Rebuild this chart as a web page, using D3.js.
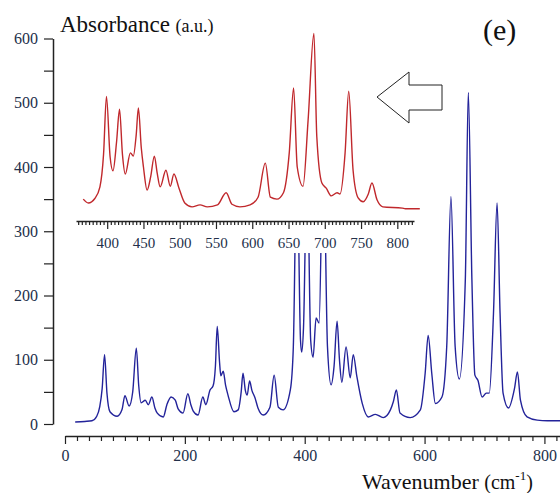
<!DOCTYPE html>
<html><head><meta charset="utf-8">
<script src="https://cdn.jsdelivr.net/npm/d3@7"></script>
<style>body{margin:0;background:#fff}svg{display:block}
.tick text{font-family:'Liberation Serif','Times New Roman',serif !important;}
</style>
</head><body>
<svg id="c" width="560" height="493"></svg>
<script>
// Main spectrum (blue): wavenumber / absorbance
const blueX = [17,33,45,53,58,62,66,70,75,87,95,100,107,113,119,123,127,134,139,145,150,154,164,170,177,184,189,197,205,210,214,222,230,235,242,247,251,254,258,260,264,268,272,282,289,294,297,301,304,308,312,317,322,331,342,349,356,364,376,381,387,393,395,398,404,410,414,419,424,431,438,444,449,454,458,462,469,476,481,487,496,506,518,531,543,548,553,559,576,593,601,606,612,618,629,637,644,651,658,668,673,679,684,689,696,703,708,715,721,726,731,740,750,755,760,771,788,805,826];
const blueY = [3,4,5,12,27,55,108,48,19,12,22,44,28,50,118,60,33,37,30,42,25,17,11,30,42,37,23,17,47,30,20,14,42,30,53,59,90,152,95,75,82,60,45,19,22,50,79,52,45,67,52,41,25,14,26,76,26,22,53,120,420,130,112,150,410,130,104,165,157,440,120,61,90,160,100,65,120,72,108,74,32,11,15,10,22,35,53,17,10,22,79,138,79,32,42,121,354,121,70,224,516,224,76,68,42,48,48,172,344,172,48,25,55,81,37,11,6,5,5];
// Inset spectrum (red)
const redX = [367,374,383,390,395,399,404,408,413,417,421,425,432,436,440,443,447,450,455,460,465,469,473,481,487,492,499,507,517,528,538,552,564,572,583,597,608,618,625,634,643,651,657,662,670,677,685,689,696,702,709,717,721,728,733,739,746,753,760,765,772,780,807,811,831];
const redY = [350,344,351,369,420,510,416,394,440,490,420,389,422,417,450,492,430,400,364,385,417,390,369,395,370,389,367,344,338,341,338,341,360,342,338,341,353,406,353,350,360,422,523,400,370,473,608,447,375,367,355,360,358,422,518,395,352,346,358,375,349,338,336,335,335];
const yTicks = d3.range(0, 601, 50);
const yLabels = [0,100,200,300,400,500,600];
const xTicks = d3.range(0, 821, 20);
const xLabels = [0,200,400,600,800];
const insetTicks = d3.range(360, 821, 5);
const insetLabels = [400,450,500,550,600,650,700,750,800];

const svg = d3.select("#c");
const serif = "'Liberation Serif','Times New Roman',serif";
const axisCol = "#222", labelCol = "#23304a";

const x = d3.scaleLinear().domain([0, 826]).range([65, 560]);
const y = d3.scaleLinear().domain([0, 600]).range([424, 38.5]);
const xi = d3.scaleLinear().domain([357, 823]).range([76, 414]);

// blue spectrum
svg.append("path")
  .attr("d", d3.line().curve(d3.curveMonotoneX).x((d,i)=>x(blueX[i])).y((d,i)=>y(blueY[i]))(blueX))
  .attr("fill","none").attr("stroke","#23239a").attr("stroke-width",1.4).attr("stroke-linejoin","round");

// inset background
svg.append("rect").attr("x",58).attr("y",8).attr("width",370).attr("height",245).attr("fill","#fff");

// red spectrum
svg.append("path")
  .attr("d", d3.line().curve(d3.curveMonotoneX).x((d,i)=>xi(redX[i])).y((d,i)=>y(redY[i]))(redX))
  .attr("fill","none").attr("stroke","#c0282c").attr("stroke-width",1.4).attr("stroke-linejoin","round");

// y axis
const ya = svg.append("g").attr("transform","translate(53,0)")
  .call(d3.axisLeft(y).tickValues(yTicks).tickSize(9).tickSizeOuter(0)
    .tickFormat(d => yLabels.includes(d) ? d : ""));
// x axis
const xa = svg.append("g").attr("transform","translate(0,436)")
  .call(d3.axisBottom(x).tickValues(xTicks).tickSizeOuter(0)
    .tickFormat(d => xLabels.includes(d) ? d : ""));
xa.selectAll(".tick line").attr("y2", d => d % 200 === 0 ? 8 : 5);
xa.selectAll(".tick text").attr("y", 14);
// inset axis
const ia = svg.append("g").attr("transform","translate(0,221)")
  .call(d3.axisBottom(xi).tickValues(insetTicks).tickSizeOuter(0)
    .tickFormat(d => insetLabels.includes(d) ? d : ""));
ia.selectAll(".tick line").attr("y2", d => d % 50 === 0 ? 8 : 4);
ia.selectAll(".tick text").attr("y", 16);

[ya, xa, ia].forEach(ax => {
  ax.attr("font-family", serif).attr("font-size", 16);
  ax.select(".domain").attr("stroke", axisCol).attr("stroke-width", 1.5);
  ax.selectAll(".tick line").attr("stroke", axisCol).attr("stroke-width", 1.2);
  ax.selectAll(".tick text").attr("fill", labelCol);
});
ya.selectAll(".tick text").attr("x", -15);
ia.attr("font-size", 15);

// titles
const t1 = svg.append("text").attr("x",60).attr("y",32).attr("font-family",serif).attr("fill","#111");
t1.append("tspan").attr("font-size",23).text("Absorbance ");
t1.append("tspan").attr("font-size",18).text("(a.u.)");

svg.append("text").attr("x",483).attr("y",40).attr("font-family",serif).attr("font-size",30).attr("fill","#111").text("(e)");

const t2 = svg.append("text").attr("x",362).attr("y",489).attr("font-family",serif).attr("fill","#111");
t2.append("tspan").attr("font-size",22).text("Wavenumber ");
t2.append("tspan").attr("font-size",20).text("(cm");
t2.append("tspan").attr("font-size",13).attr("dy",-9).text("-1");
t2.append("tspan").attr("font-size",20).attr("dy",9).text(")");

// arrow
svg.append("path")
  .attr("d", d3.line()([[377,97],[409,72],[409,85],[442,85],[442,110],[409,110],[409,123]]) + "Z")
  .attr("fill","#fff").attr("stroke","#222").attr("stroke-width",1);
</script>
</body></html>
